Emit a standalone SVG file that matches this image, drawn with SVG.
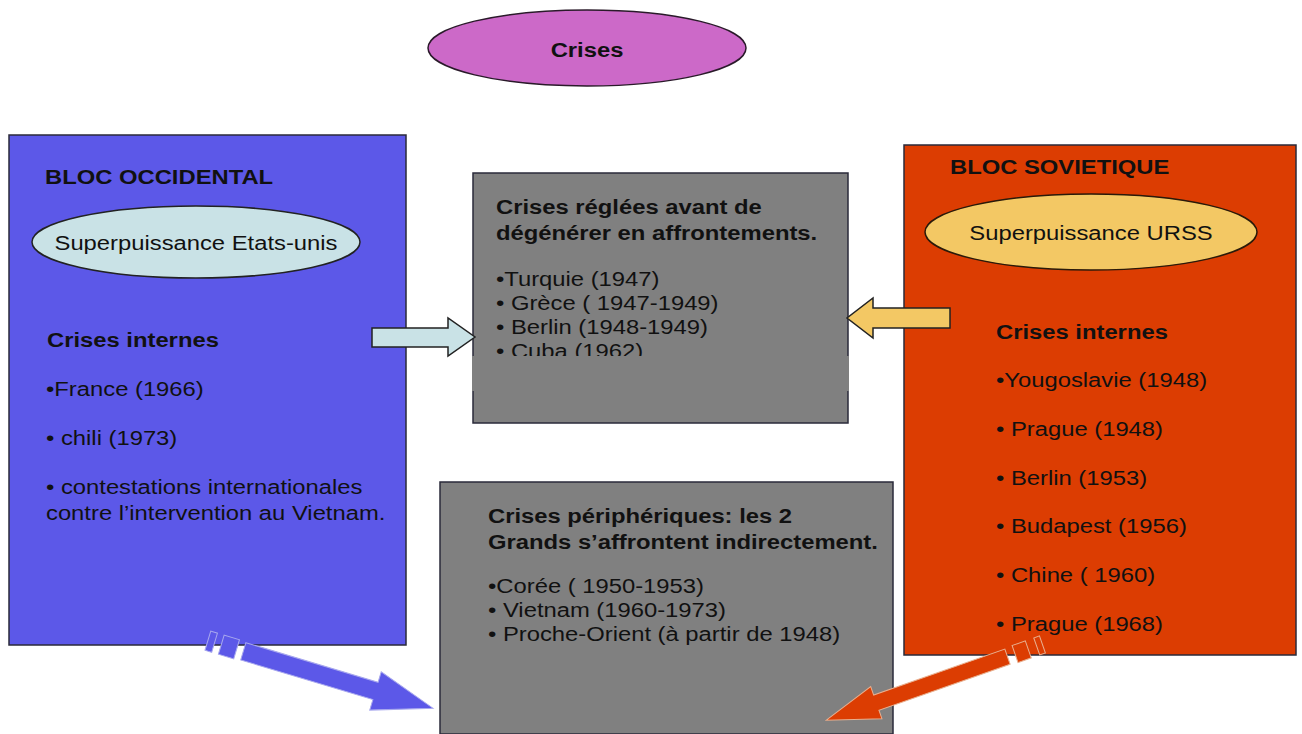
<svg xmlns="http://www.w3.org/2000/svg" width="1302" height="734" viewBox="0 0 1302 734">
  <style>
    .t { font-family: "Liberation Sans", Arial, sans-serif; font-size: 20px; fill: #111; }
    .b { font-weight: bold; }
    .mid { text-anchor: middle; }
    .box { stroke: #2a2a3a; stroke-width: 1.5; }
    .gray { fill: #808080; }
    .edge { stroke: #222; stroke-width: 1.5; stroke-linejoin: miter; }
  </style>

  <rect width="1302" height="734" fill="#ffffff"/>

  <!-- Title -->
  <g id="crises">
    <ellipse cx="587" cy="48" rx="159" ry="38" fill="#cc69c8" stroke="#2a1a2a" stroke-width="1.5"/>
    <text class="t b mid" transform="matrix(1.19 0 0 1 587 57)">Crises</text>
  </g>

  <!-- Western bloc -->
  <g id="bloc-occidental">
    <rect class="box" x="9" y="135" width="397" height="510" fill="#5c58e8"/>
    <text class="t b" transform="matrix(1.19 0 0 1 45 184)">BLOC OCCIDENTAL</text>
    <ellipse cx="196" cy="242" rx="164" ry="36" fill="#c9e2e6" stroke="#222" stroke-width="1.5"/>
    <text class="t mid" transform="matrix(1.19 0 0 1 196 250)">Superpuissance Etats-unis</text>
    <text class="t b" transform="matrix(1.19 0 0 1 47 347)">Crises internes</text>
    <text class="t" transform="matrix(1.19 0 0 1 46 396)">•France (1966)</text>
    <text class="t" transform="matrix(1.19 0 0 1 46 445)">• chili (1973)</text>
    <text class="t" transform="matrix(1.19 0 0 1 46 494)">• contestations internationales</text>
    <text class="t" transform="matrix(1.19 0 0 1 46 520)">contre l’intervention au Vietnam.</text>
  </g>

  <!-- Soviet bloc -->
  <g id="bloc-sovietique">
    <rect class="box" x="904" y="145" width="392" height="510" fill="#dc3d02"/>
    <text class="t b" transform="matrix(1.19 0 0 1 950 174)">BLOC SOVIETIQUE</text>
    <ellipse cx="1091" cy="232" rx="166" ry="38" fill="#f3c864" stroke="#2a1a0a" stroke-width="1.5"/>
    <text class="t mid" transform="matrix(1.19 0 0 1 1091 240)">Superpuissance URSS</text>
    <text class="t b" transform="matrix(1.19 0 0 1 996 339)">Crises internes</text>
    <text class="t" transform="matrix(1.19 0 0 1 996 387)">•Yougoslavie (1948)</text>
    <text class="t" transform="matrix(1.19 0 0 1 996 436)">• Prague (1948)</text>
    <text class="t" transform="matrix(1.19 0 0 1 996 485)">• Berlin (1953)</text>
    <text class="t" transform="matrix(1.19 0 0 1 996 533)">• Budapest (1956)</text>
    <text class="t" transform="matrix(1.19 0 0 1 996 582)">• Chine ( 1960)</text>
    <text class="t" transform="matrix(1.19 0 0 1 996 631)">• Prague (1968)</text>
  </g>

  <!-- Crises settled before escalation -->
  <g id="crises-reglees">
    <rect class="box gray" x="473" y="173" width="375" height="250"/>
    <text class="t b" transform="matrix(1.19 0 0 1 496 214)">Crises réglées avant de</text>
    <text class="t b" transform="matrix(1.19 0 0 1 496 240)">dégénérer en affrontements.</text>
    <text class="t" transform="matrix(1.19 0 0 1 496 286)">•Turquie (1947)</text>
    <text class="t" transform="matrix(1.19 0 0 1 496 310)">• Grèce ( 1947-1949)</text>
    <text class="t" transform="matrix(1.19 0 0 1 496 334)">• Berlin (1948-1949)</text>
    <text class="t" transform="matrix(1.19 0 0 1 496 358)">• Cuba (1962)</text>
    <!-- flat band laid over the lower part of the list -->
    <rect class="gray" x="472" y="356" width="377" height="35"/>
  </g>

  <!-- Peripheral crises -->
  <g id="crises-peripheriques">
    <rect class="box gray" x="440" y="482" width="453" height="252"/>
    <text class="t b" transform="matrix(1.19 0 0 1 488 523)">Crises périphériques: les 2</text>
    <text class="t b" transform="matrix(1.19 0 0 1 488 549)">Grands s’affrontent indirectement.</text>
    <text class="t" transform="matrix(1.19 0 0 1 488 593)">•Corée ( 1950-1953)</text>
    <text class="t" transform="matrix(1.19 0 0 1 488 617)">• Vietnam (1960-1973)</text>
    <text class="t" transform="matrix(1.19 0 0 1 488 641)">• Proche-Orient (à partir de 1948)</text>
  </g>

  <!-- Connectors: block arrows -->
  <g id="connectors">
    <polygon class="edge" fill="#c9e2e6" points="372,328 448,328 448,318 475,337 448,356 448,347 372,347"/>
    <polygon class="edge" fill="#f3c864" points="950,308 873,308 873,298 847,318 873,338 873,328 950,328"/>

    <g transform="translate(243.3 651.3) rotate(16.7)" fill="#5c58e8" stroke="#a8a8ee" stroke-width="1">
      <polygon points="0,-9 138,-9 138,-20 198,0 138,20 138,9 0,9"/>
      <rect x="-23" y="-10" width="16" height="20"/>
      <rect x="-37" y="-10" width="7" height="20"/>
    </g>

    <g transform="translate(1007.5 656.7) rotate(160.7)" fill="#dc3d02" stroke="#e8b090" stroke-width="1">
      <polygon points="0,-8 139,-8 139,-17 192,0 139,17 139,8 0,8"/>
      <rect x="-22" y="-9" width="14" height="18"/>
      <rect x="-37" y="-9" width="6" height="18"/>
    </g>
  </g>
</svg>
